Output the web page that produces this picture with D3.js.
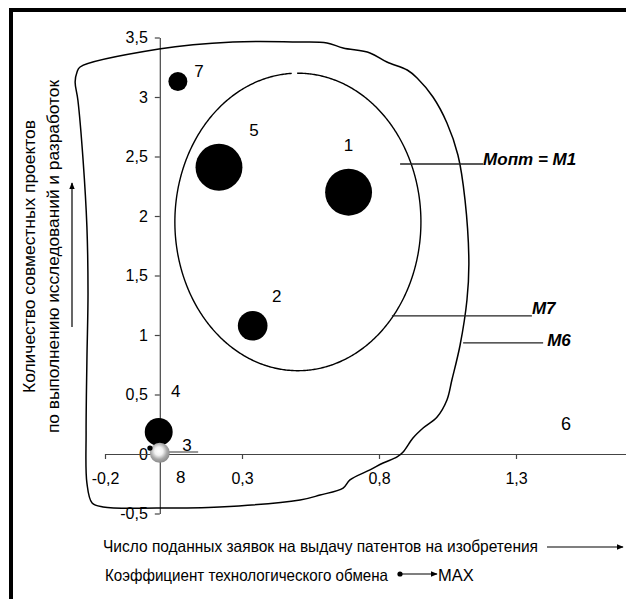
<!DOCTYPE html>
<html><head><meta charset="utf-8">
<script src="https://cdn.jsdelivr.net/npm/d3@7"></script>
<style>body{margin:0;background:#fff}svg{display:block}</style>
</head><body>
<script>
// ---- data ----
const xTickValues = [-0.2, 0.3, 0.8, 1.3];
const yTickValues = [3.5, 3, 2.5, 2, 1.5, 1, 0.5, 0, -0.5];
const pointIds    = ["1", "2", "3", "4", "5", "7", "8"];
const pointX      = [0.689, 0.339, -0.036, -0.004, 0.216, 0.066, 0.0];
const pointY      = [2.20, 1.078, 0.05, 0.185, 2.41, 3.13, 0.01];
const pointWeight = [5.5, 2.2, 0.07, 1.95, 5.5, 0.9, 1.0];
const pointKind   = ["dark", "dark", "dark", "dark", "dark", "dark", "light"];
const region6X = [-0.291,-0.003,0.267,0.512,0.610,0.669,0.767,0.829,0.903,0.939,0.997,1.048,1.088,1.114,1.128,1.121,1.096,1.066,1.048,1.012,0.961,0.924,0.888,0.866,0.815,0.767,0.694,0.669,0.585,0.512,0.218,-0.010,-0.207,-0.247,-0.266,-0.269,-0.266,-0.262,-0.266,-0.280,-0.299,-0.309,-0.302];
const region6Y = [3.252,3.403,3.462,3.462,3.454,3.412,3.370,3.294,3.227,3.160,3.000,2.782,2.513,2.134,1.605,1.294,0.916,0.622,0.454,0.311,0.218,0.134,0.017,-0.025,-0.076,-0.134,-0.218,-0.286,-0.345,-0.387,-0.445,-0.454,-0.445,-0.412,-0.244,0.176,0.790,1.353,1.908,2.471,2.975,3.126,3.210];
const regionM7 = [0.504, 1.95, 0.449, 1.25]; // cx, cy, rx, ry
const calloutLabels = ["Мопт = М1", "М7", "М6"];
const calloutX1 = [0.877, 0.847, 1.107];
const calloutX2 = [1.180, 1.358, 1.399];
const calloutY  = [2.437, 1.160, 0.933];
const extraLabel = "6";
const yTitle = ["Количество совместных проектов", "по выполнению исследований и разработок"];
const xTitle1 = "Число поданных заявок на выдачу патентов на изобретения";
const xTitle2 = "Коэффициент технологического обмена";
const maxLabel = "MAX";

// ---- layout ----
const W = 626, H = 599;
const FONT = "'Liberation Sans', Arial, sans-serif";
const labelOffset = {"1":[0,-47],"2":[24,-30],"3":[37,-3],"4":[17,-41],"5":[35,-37],"7":[21,-10],"8":[21,24]};

const svg = d3.select("body").append("svg").attr("width", W).attr("height", H)
  .style("font-family", FONT);

const defs = svg.append("defs");
const grad = defs.append("radialGradient").attr("id","g8").attr("cx","45%").attr("cy","42%").attr("r","58%");
grad.append("stop").attr("offset","0%").attr("stop-color","#ffffff");
grad.append("stop").attr("offset","35%").attr("stop-color","#f2f2f2");
grad.append("stop").attr("offset","70%").attr("stop-color","#a8a8a8");
grad.append("stop").attr("offset","100%").attr("stop-color","#8a8a8a");
defs.append("marker").attr("id","arr").attr("viewBox","0 0 10 10").attr("refX",9).attr("refY",5)
  .attr("markerWidth",7).attr("markerHeight",7).attr("orient","auto").attr("markerUnits","userSpaceOnUse")
  .append("path").attr("d","M0,1 L10,5 L0,9 Z").attr("fill","#000");

const x = d3.scaleLinear().domain([-0.2, 1.8]).range([105, 653]);
const y = d3.scaleLinear().domain([-0.5, 3.5]).range([513.5, 37.5]);
const r = d3.scaleSqrt().domain([0, 1]).range([0, 10]);
const fmt = d => String(d).replace(".", ",");

// frame (top and left edges visible)
svg.append("rect").attr("x", 9).attr("y", 8).attr("width", 620).attr("height", 4).attr("fill", "#000");
svg.append("rect").attr("x", 9).attr("y", 8).attr("width", 4).attr("height", 591).attr("fill", "#000");

// axes
const gy = svg.append("g").attr("transform", `translate(${x(0)},0)`)
  .call(d3.axisLeft(y).tickValues(yTickValues).tickSize(5).tickPadding(7).tickSizeOuter(0).tickFormat(fmt));
const gx = svg.append("g").attr("transform", `translate(0,${y(0)})`)
  .call(d3.axisBottom(x).tickValues(xTickValues).tickSize(5).tickPadding(14).tickSizeOuter(0).tickFormat(fmt));
[gy, gx].forEach(g => {
  g.attr("font-family", FONT).attr("font-size", 16);
  g.selectAll("path,line").attr("stroke", "#444").attr("stroke-width", 1.2);
  g.selectAll("text").attr("fill", "#000");
});

// region M6
const contour = region6X.map((v, i) => [v, region6Y[i]]);
svg.append("path").datum(contour)
  .attr("d", d3.line().x(d => x(d[0])).y(d => y(d[1])).curve(d3.curveCatmullRomClosed.alpha(0.5)))
  .attr("fill", "none").attr("stroke", "#000").attr("stroke-width", 1.5);

// region M7 (ellipse with small gap at top)
const [ecx, ecy, erx, ery] = regionM7;
const t0 = Math.PI / 2 + 0.028 + 0.022, t1 = Math.PI / 2 + 0.028 - 0.022 + 2 * Math.PI;
const ell = d3.range(t0, t1, 0.01).concat([t1]).map(t => [ecx + erx * Math.cos(t), ecy + ery * Math.sin(t)]);
svg.append("path").datum(ell)
  .attr("d", d3.line().x(d => x(d[0])).y(d => y(d[1])))
  .attr("fill", "none").attr("stroke", "#000").attr("stroke-width", 1.4);

// callouts
calloutLabels.forEach((lab, i) => {
  svg.append("line").attr("x1", x(calloutX1[i])).attr("x2", x(calloutX2[i]))
    .attr("y1", y(calloutY[i])).attr("y2", y(calloutY[i])).attr("stroke", "#222").attr("stroke-width", 1.3);
  svg.append("text").attr("x", x(calloutX2[i]) + (i === 2 ? 4 : 0)).attr("y", y(calloutY[i]) + (i === 0 ? 1 : (i === 1 ? -2 : 3)))
    .attr("font-size", 17).attr("font-weight", "bold").attr("font-style", "italic").text(lab);
});

// leader line for point 3
svg.append("line").attr("x1", x(0.004)).attr("x2", x(0.14)).attr("y1", y(0.017)).attr("y2", y(0.017))
  .attr("stroke", "#333").attr("stroke-width", 1.2);

// bubbles
const pts = pointIds.map((id, i) => ({id, x: pointX[i], y: pointY[i], w: pointWeight[i], kind: pointKind[i]}));
const order = ["1","2","5","7","4","8","3"];
order.map(id => pts.find(p => p.id === id)).forEach(p => {
  svg.append("circle").attr("cx", x(p.x)).attr("cy", y(p.y)).attr("r", r(p.w))
    .attr("fill", p.kind === "light" ? "url(#g8)" : "#000");
});
pts.forEach(p => {
  const o = labelOffset[p.id];
  svg.append("text").attr("x", x(p.x) + o[0]).attr("y", y(p.y) + o[1]).attr("dy", "0.35em")
    .attr("text-anchor", "middle").attr("font-size", 17).text(p.id);
});
svg.append("text").attr("x", 566).attr("y", 424).attr("dy", "0.35em").attr("text-anchor", "middle")
  .attr("font-size", 18).text(extraLabel);

// y title
svg.append("text").attr("transform", "translate(35,256.5) rotate(-90)").attr("text-anchor", "middle")
  .attr("font-size", 17).attr("textLength", 273).attr("lengthAdjust", "spacingAndGlyphs").text(yTitle[0]);
svg.append("text").attr("transform", "translate(59,256.5) rotate(-90)").attr("text-anchor", "middle")
  .attr("font-size", 17).attr("textLength", 353).attr("lengthAdjust", "spacingAndGlyphs").text(yTitle[1]);
svg.append("line").attr("x1", 72).attr("x2", 72).attr("y1", 327).attr("y2", 183)
  .attr("stroke", "#000").attr("stroke-width", 1.2).attr("marker-end", "url(#arr)");

// x titles
svg.append("text").attr("x", 103).attr("y", 552).attr("font-size", 16.5)
  .attr("textLength", 435).attr("lengthAdjust", "spacingAndGlyphs").text(xTitle1);
svg.append("line").attr("x1", 547).attr("x2", 623).attr("y1", 547).attr("y2", 547)
  .attr("stroke", "#000").attr("stroke-width", 1.2).attr("marker-end", "url(#arr)");
svg.append("text").attr("x", 105).attr("y", 581).attr("font-size", 16.5)
  .attr("textLength", 283).attr("lengthAdjust", "spacingAndGlyphs").text(xTitle2);
svg.append("circle").attr("cx", 400).attr("cy", 574).attr("r", 2.6).attr("fill", "#000");
svg.append("line").attr("x1", 400).attr("x2", 437).attr("y1", 574).attr("y2", 574)
  .attr("stroke", "#000").attr("stroke-width", 1.2).attr("marker-end", "url(#arr)");
svg.append("text").attr("x", 438).attr("y", 581).attr("font-size", 16.5).text(maxLabel);
</script>
</body></html>
